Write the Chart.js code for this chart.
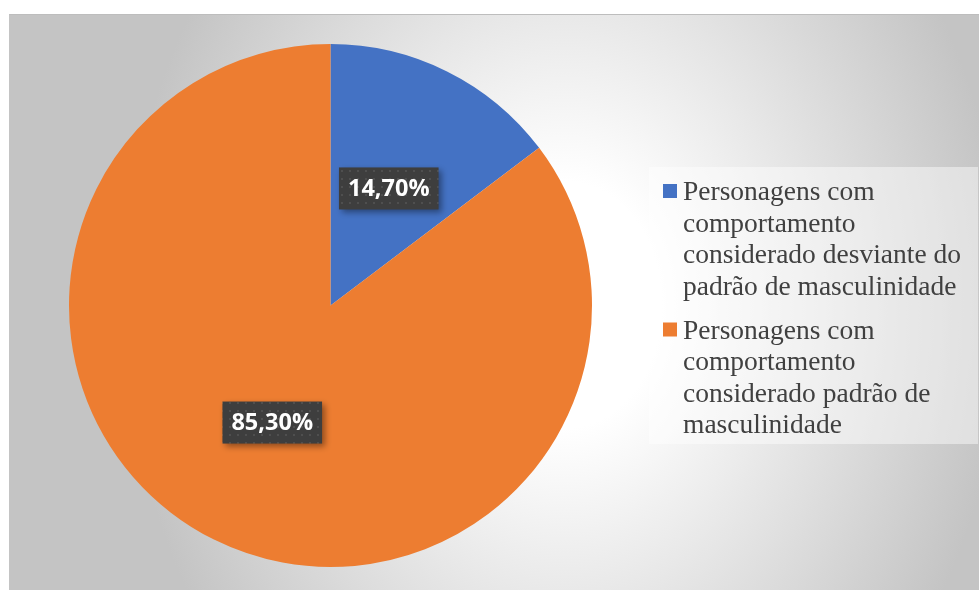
<!DOCTYPE html>
<html>
<head>
<meta charset="utf-8">
<script src="https://cdn.jsdelivr.net/npm/chart.js@4.4.1/dist/chart.umd.min.js"></script>
<style>
    html, body { margin: 0; padding: 0; background: #ffffff; }
    body { width: 979px; height: 590px; position: relative; overflow: hidden; }
    #wrap {
        position: absolute; left: 9px; top: 14px; width: 970px; height: 576px;
        border-top: 1px solid #bdbdbd; border-left: 1px solid #c4c4c4; box-sizing: border-box;
        background: radial-gradient(ellipse 440px 560px at 555px 290px, #ffffff 0%, #ffffff 22%, #c4c4c4 100%);
    }
</style>
</head>
<body>
<div id="wrap"><canvas id="pieChart"></canvas></div>
<script>
// data
const labels = [
    'Personagens com comportamento considerado desviante do padrão de masculinidade',
    'Personagens com comportamento considerado padrão de masculinidade'
];
const values = [14.7, 85.3];
const colors = ['#4472C4', '#ED7D31'];

function formatPct(v) {
    return v.toFixed(2).replace('.', ',') + '%';
}

function makeDotPattern(ctx) {
    const c = document.createElement('canvas');
    c.width = 8; c.height = 8;
    const p = c.getContext('2d');
    p.fillStyle = '#3e3e3e';
    p.fillRect(0, 0, 8, 8);
    p.fillStyle = '#4f4f4f';
    p.fillRect(3, 3, 2, 2);
    return ctx.createPattern(c, 'repeat');
}

// data labels in dark boxes, at half the radius
const dataLabelPlugin = {
    id: 'dataLabels',
    afterDatasetsDraw(chart) {
        const ctx = chart.ctx;
        const meta = chart.getDatasetMeta(0);
        const pattern = makeDotPattern(ctx);
        ctx.save();
        ctx.font = 'bold 23.5px "Open Sans"';
        meta.data.forEach((arc, i) => {
            const p = arc.getProps(['x', 'y', 'startAngle', 'endAngle', 'outerRadius'], true);
            const mid = (p.startAngle + p.endAngle) / 2;
            const cx = p.x + Math.cos(mid) * p.outerRadius * 0.5;
            const cy = p.y + Math.sin(mid) * p.outerRadius * 0.5;
            const text = formatPct(values[i]);
            const w = ctx.measureText(text).width + 18;
            const h = 42;
            ctx.save();
            ctx.shadowColor = 'rgba(0,0,0,0.4)';
            ctx.shadowBlur = 6;
            ctx.shadowOffsetX = 3;
            ctx.shadowOffsetY = 3;
            ctx.fillStyle = pattern;
            ctx.fillRect(cx - w / 2, cy - h / 2, w, h);
            ctx.restore();
            ctx.fillStyle = '#ffffff';
            ctx.textAlign = 'center';
            ctx.textBaseline = 'middle';
            ctx.fillText(text, cx, cy + 1);
        });
        ctx.restore();
    }
};

// legend on the right with wrapped serif text
const sideLegendPlugin = {
    id: 'sideLegend',
    afterDraw(chart) {
        const ctx = chart.ctx;
        const boxX = 639, boxY = 152, boxW = 329, boxH = 277;
        const textX = 673, maxW = 292, lineH = 31.5, itemGap = 12.5;
        ctx.save();
        ctx.fillStyle = 'rgba(255,255,255,0.45)';
        ctx.fillRect(boxX, boxY, boxW, boxH);
        ctx.font = '27.5px "Liberation Serif"';
        ctx.textBaseline = 'alphabetic';
        ctx.textAlign = 'left';
        let y = 185;
        chart.data.labels.forEach((label, i) => {
            const words = label.split(' ');
            const lines = [];
            let line = '';
            words.forEach(wd => {
                const test = line ? line + ' ' + wd : wd;
                if (ctx.measureText(test).width > maxW && line) {
                    lines.push(line);
                    line = wd;
                } else {
                    line = test;
                }
            });
            if (line) lines.push(line);
            ctx.fillStyle = colors[i];
            ctx.fillRect(653, y - 16, 14, 14);
            ctx.fillStyle = '#404040';
            lines.forEach((ln, k) => {
                ctx.fillText(ln, textX, y + k * lineH);
            });
            y += lines.length * lineH + itemGap;
        });
        ctx.restore();
    }
};

new Chart(document.getElementById('pieChart').getContext('2d'), {
    type: 'pie',
    data: {
        labels: labels,
        datasets: [{
            data: values,
            backgroundColor: colors,
            borderWidth: 0
        }]
    },
    options: {
        responsive: true,
        maintainAspectRatio: false,
        animation: false,
        layout: { padding: { left: 59, right: 387, top: 29, bottom: 23 } },
        plugins: {
            legend: { display: false },
            tooltip: { enabled: false }
        }
    },
    plugins: [dataLabelPlugin, sideLegendPlugin]
});
</script>
</body>
</html>
